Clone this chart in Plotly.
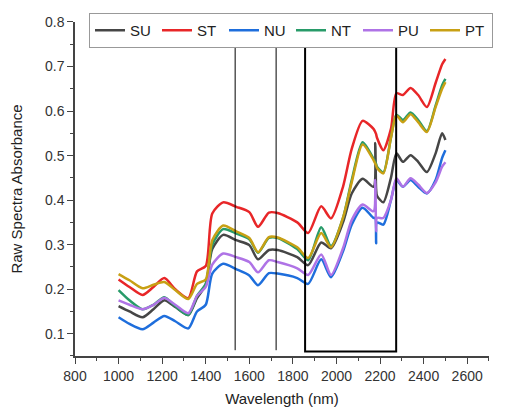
import plotly.graph_objects as go

# wavelength grid (nm)
wavelength = [1000, 1050, 1110, 1160, 1210, 1260, 1320, 1360, 1400, 1430, 1480, 1540, 1600, 1640,
              1690, 1730, 1820, 1870, 1930, 1975, 2030, 2070, 2120, 2170, 2178, 2182, 2186, 2215,
              2250, 2275, 2305, 2340, 2375, 2415, 2455, 2485, 2500]

SU = [0.162, 0.150, 0.137, 0.155, 0.175, 0.160, 0.142, 0.180, 0.210, 0.290, 0.322, 0.310, 0.299, 0.267,
      0.288, 0.288, 0.272, 0.254, 0.305, 0.292, 0.350, 0.415, 0.448, 0.430, 0.528, 0.425, 0.410, 0.395,
      0.450, 0.505, 0.486, 0.501, 0.486, 0.463, 0.505, 0.550, 0.535]
ST = [0.222, 0.205, 0.187, 0.205, 0.225, 0.200, 0.180, 0.240, 0.252, 0.370, 0.395, 0.385, 0.373, 0.340,
      0.372, 0.371, 0.350, 0.326, 0.386, 0.359, 0.430, 0.515, 0.578, 0.560, 0.553, 0.548, 0.540, 0.512,
      0.560, 0.640, 0.636, 0.652, 0.636, 0.609, 0.663, 0.705, 0.717]
NU = [0.137, 0.122, 0.110, 0.125, 0.140, 0.128, 0.112, 0.150, 0.165, 0.235, 0.257, 0.245, 0.231, 0.209,
      0.236, 0.235, 0.225, 0.212, 0.267, 0.227, 0.285, 0.345, 0.383, 0.360, 0.360, 0.303, 0.350, 0.345,
      0.400, 0.445, 0.430, 0.445, 0.430, 0.415, 0.445, 0.495, 0.512]
NT = [0.198, 0.175, 0.155, 0.165, 0.182, 0.162, 0.142, 0.185, 0.212, 0.300, 0.335, 0.325, 0.312, 0.282,
      0.315, 0.315, 0.290, 0.265, 0.339, 0.297, 0.360, 0.445, 0.530, 0.493, 0.485, 0.481, 0.475, 0.462,
      0.540, 0.592, 0.580, 0.597, 0.580, 0.555, 0.612, 0.658, 0.672]
PU = [0.175, 0.165, 0.155, 0.165, 0.180, 0.165, 0.146, 0.185, 0.205, 0.255, 0.280, 0.272, 0.261, 0.238,
      0.265, 0.261, 0.247, 0.232, 0.278, 0.232, 0.292, 0.355, 0.390, 0.375, 0.445, 0.330, 0.360, 0.360,
      0.400, 0.449, 0.430, 0.449, 0.435, 0.416, 0.440, 0.475, 0.485]
PT = [0.234, 0.220, 0.202, 0.210, 0.216, 0.198, 0.178, 0.212, 0.222, 0.310, 0.343, 0.330, 0.315, 0.283,
      0.317, 0.316, 0.294, 0.270, 0.326, 0.294, 0.360, 0.440, 0.525, 0.490, 0.482, 0.478, 0.472, 0.460,
      0.540, 0.590, 0.575, 0.593, 0.575, 0.553, 0.609, 0.650, 0.665]

series = [("SU", SU, "rgb(70,70,70)"), ("ST", ST, "rgb(232,38,40)"), ("NU", NU, "rgb(30,110,220)"),
          ("NT", NT, "rgb(40,155,105)"), ("PU", PU, "rgb(175,115,230)"), ("PT", PT, "rgb(200,160,20)")]

# marker lines and highlighted band (nm)
mark_lines = [1535, 1723]
band = [1856, 2274]
band_y = [0.06, 0.755]

fig = go.Figure()
for name, vals, col in series:
    fig.add_trace(go.Scatter(x=wavelength, y=vals, name=name, mode="lines",
                             line=dict(color=col, width=2.5, shape="spline", smoothing=0.7)))

for xv in mark_lines:
    fig.add_shape(type="line", x0=xv, x1=xv, y0=band_y[0] + 0.003, y1=band_y[1],
                  line=dict(color="black", width=1))
fig.add_shape(type="rect", x0=band[0], x1=band[1], y0=band_y[0], y1=band_y[1],
              line=dict(color="black", width=2))

font = "Arial, Liberation Sans, sans-serif"
# small margins so the legend can run to the right edge; axes placed by domain
# (page body adds 8px offset, domains allow for it)
fig.update_layout(
    width=508, height=408,
    margin=dict(l=5, r=5, t=5, b=5, autoexpand=False),
    plot_bgcolor="white", paper_bgcolor="white",
    font=dict(family=font, size=14, color="#333"),
    legend=dict(orientation="h", x=0.1526, y=1.0, xanchor="left", yanchor="top",
                bordercolor="#999", borderwidth=1, font=dict(size=15, color="#222"),
                entrywidth=22, tracegroupgap=0, itemwidth=30),
    xaxis=dict(domain=[0.1245, 0.9558], range=[800, 2700], dtick=200, showgrid=False, zeroline=False,
               showline=True, linecolor="#444", linewidth=1.5, automargin=False,
               ticks="outside", ticklen=6, tickcolor="#444",
               minor=dict(dtick=100, ticks="outside", ticklen=3, tickcolor="#444"),
               title=dict(text="Wavelength (nm)", font=dict(size=15, color="#222"), standoff=11)),
    yaxis=dict(domain=[0.1382, 0.9774], range=[0.05, 0.8], dtick=0.1, tick0=0, showgrid=False,
               zeroline=False, showline=True, linecolor="#444", linewidth=1.5, automargin=False,
               ticks="outside", ticklen=6, tickcolor="#444",
               minor=dict(dtick=0.05, ticks="outside", ticklen=3, tickcolor="#444"),
               title=dict(text="Raw Spectra Absorbance", font=dict(size=15, color="#222"), standoff=20)),
)

fig.write_html("out.html")
